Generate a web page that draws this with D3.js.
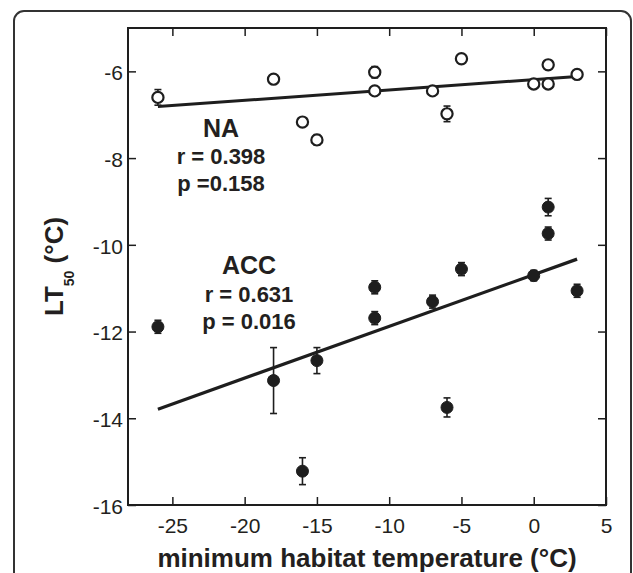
<!DOCTYPE html>
<html>
<head>
<meta charset="utf-8">
<script src="https://cdn.jsdelivr.net/npm/d3@7/dist/d3.min.js"></script>
<style>
  html, body { margin: 0; padding: 0; background: #fff; }
  svg { display: block; }
  text { font-family: "Liberation Sans", Arial, Helvetica, sans-serif; fill: #231f20; }
</style>
</head>
<body>
<svg id="chart" width="633" height="573"></svg>
<script>
// ---- data ----
const temps = [-26, -18, -16, -15, -11, -11, -7, -6, -5, 0, 1, 1, 3];
const naValues  = [-6.60, -6.18, -7.17, -7.58, -6.02, -6.45, -6.45, -6.98, -5.71, -6.29, -5.85, -6.29, -6.07];
const naErrors  = [0.18, 0.08, 0.06, 0.12, 0.13, 0.06, 0.06, 0.18, 0.06, 0.06, 0.10, 0.08, 0.05];
const accValues = [-11.89, -13.13, -15.22, -12.67, -10.98, -11.69, -11.31, -13.75, -10.56, -10.71, -9.13, -9.74, -11.06];
const accErrors = [0.15, 0.76, 0.31, 0.30, 0.15, 0.15, 0.15, 0.22, 0.15, 0.12, 0.20, 0.15, 0.15];
const naFitX = [-26, 3];
const naFitY = [-6.81, -6.12];
const accFitX = [-26, 3];
const accFitY = [-13.79, -10.33];
const xTicks = [-25, -20, -15, -10, -5, 0, 5];
const yTicks = [-16, -14, -12, -10, -8, -6];
const naLabels = ["NA", "r = 0.398", "p =0.158"];
const accLabels = ["ACC", "r = 0.631", "p = 0.016"];

// ---- layout ----
const svg = d3.select("#chart");
const L = 128, R = 606, T = 28, B = 505;
const x = d3.scaleLinear().domain([-28.07, 5]).range([L, R]);
const y = d3.scaleLinear().domain([-16, -5]).range([B, T]);
const ink = "#1e1e1e";
const fmt = d => String(d);

// outer rounded panel
svg.append("rect")
  .attr("x", 14).attr("y", 11).attr("width", 617).attr("height", 640)
  .attr("rx", 10).attr("ry", 10)
  .attr("fill", "none").attr("stroke", "#333").attr("stroke-width", 2);

// axes
function styleAxis(g, labels) {
  g.select(".domain").remove();
  g.selectAll(".tick line").attr("stroke", ink).attr("stroke-width", 1.5);
  g.selectAll(".tick text")
    .style("font-size", "21px")
    .attr("fill", "#231f20");
  if (!labels) g.selectAll(".tick text").remove();
}

svg.append("g").attr("transform", `translate(0,${B})`)
  .call(d3.axisBottom(x).tickValues(xTicks).tickSizeInner(-8).tickSizeOuter(0).tickPadding(13).tickFormat(fmt))
  .call(g => styleAxis(g, true));
svg.append("g").attr("transform", `translate(0,${T})`)
  .call(d3.axisTop(x).tickValues(xTicks).tickSizeInner(-8).tickSizeOuter(0))
  .call(g => styleAxis(g, false));
svg.append("g").attr("transform", `translate(${L},0)`)
  .call(d3.axisLeft(y).tickValues(yTicks).tickSizeInner(-8).tickSizeOuter(0).tickPadding(5).tickFormat(fmt))
  .call(g => { styleAxis(g, true); g.selectAll(".tick text").attr("dy", "0.4em"); });
svg.append("g").attr("transform", `translate(${R},0)`)
  .call(d3.axisRight(y).tickValues(yTicks).tickSizeInner(-8).tickSizeOuter(0))
  .call(g => styleAxis(g, false));

// frame
svg.append("rect")
  .attr("x", L).attr("y", T).attr("width", R - L).attr("height", B - T)
  .attr("fill", "none").attr("stroke", ink).attr("stroke-width", 2);

// regression lines
const line = d3.line().x(d => x(d[0])).y(d => y(d[1]));
svg.append("path").datum(d3.zip(naFitX, naFitY))
  .attr("d", line).attr("fill", "none").attr("stroke", ink).attr("stroke-width", 3);
svg.append("path").datum(d3.zip(accFitX, accFitY))
  .attr("d", line).attr("fill", "none").attr("stroke", ink).attr("stroke-width", 3.2);

// points with error bars
function drawSeries(vals, errs, filled) {
  const data = temps.map((t, i) => ({ t, v: vals[i], e: errs[i] }));
  const g = svg.append("g");
  const eb = g.selectAll("g.eb").data(data).enter().append("g")
    .attr("stroke", ink).attr("stroke-width", 1.6);
  eb.append("line")
    .attr("x1", d => x(d.t)).attr("x2", d => x(d.t))
    .attr("y1", d => y(d.v + d.e)).attr("y2", d => y(d.v - d.e));
  eb.append("line")
    .attr("x1", d => x(d.t) - 3.5).attr("x2", d => x(d.t) + 3.5)
    .attr("y1", d => y(d.v + d.e)).attr("y2", d => y(d.v + d.e));
  eb.append("line")
    .attr("x1", d => x(d.t) - 3.5).attr("x2", d => x(d.t) + 3.5)
    .attr("y1", d => y(d.v - d.e)).attr("y2", d => y(d.v - d.e));
  g.selectAll("circle").data(data).enter().append("circle")
    .attr("cx", d => x(d.t)).attr("cy", d => y(d.v))
    .attr("r", filled ? 6 : 5.6)
    .attr("fill", filled ? ink : "#fff")
    .attr("stroke", ink).attr("stroke-width", filled ? 1 : 2.2);
}
drawSeries(naValues, naErrors, false);
drawSeries(accValues, accErrors, true);

// annotations
function annot(labels, cx, baselines) {
  labels.forEach((s, i) => {
    svg.append("text")
      .attr("x", cx).attr("y", baselines[i])
      .attr("text-anchor", "middle")
      .style("font-weight", "bold")
      .style("font-size", i === 0 ? "25px" : "22px")
      .text(s);
  });
}
annot(naLabels, 221, [136.5, 164, 190.5]);
annot(accLabels, 249, [274, 302, 329]);

// axis titles
svg.append("text")
  .attr("x", (L + R) / 2).attr("y", 567)
  .attr("text-anchor", "middle")
  .style("font-weight", "bold").style("font-size", "26px")
  .text("minimum habitat temperature (°C)");

const yt = svg.append("text")
  .attr("transform", "translate(63,266.5) rotate(-90)")
  .attr("text-anchor", "middle")
  .style("font-weight", "bold").style("font-size", "26px");
yt.append("tspan").text("LT");
yt.append("tspan").attr("dy", 11).style("font-size", "14px").text("50");
yt.append("tspan").attr("dy", -11).text(" (°C)");
</script>
</body>
</html>
